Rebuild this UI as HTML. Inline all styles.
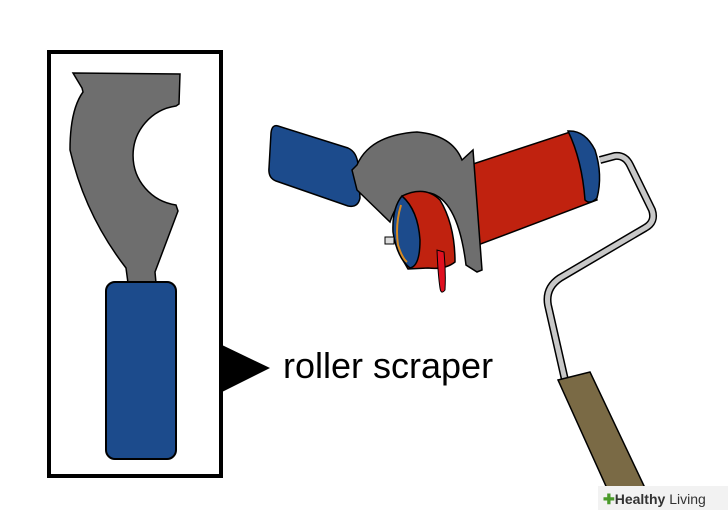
<!DOCTYPE html><html><head><style>body{margin:0;background:#fff}svg{display:block}</style></head><body>
<svg width="728" height="510" xmlns="http://www.w3.org/2000/svg">
<rect x="49" y="52" width="172" height="424" fill="none" stroke="#000" stroke-width="4"/>
<path d="M73,73 L180,74 L179,104 L176,106 A50,50 0 0 0 176,205 L178,211 L155,272 L156,283 L128,283 L126,268 Q85,215 70,150 Q70,110 83,92 L82,88 Z" fill="#6e6e6e" stroke="#000" stroke-width="1.5"/>
<rect x="106" y="282" width="70" height="177" rx="9" fill="#1c4b8c" stroke="#000" stroke-width="2"/>
<polygon points="222,345 270,368 222,392" fill="#000"/>
<text x="283" y="378" font-family="Liberation Sans,sans-serif" font-size="36" fill="#000">roller scraper</text>
<path d="M600,160 L615,156 Q625,155 630,165 L652,210 Q656,222 645,228 L560,278 Q545,288 548,305 L565,380" fill="none" stroke="#000" stroke-width="8"/>
<path d="M600,160 L615,156 Q625,155 630,165 L652,210 Q656,222 645,228 L560,278 Q545,288 548,305 L565,380" fill="none" stroke="#c8c8c8" stroke-width="5"/>
<g stroke="#000" stroke-width="1.5">
<path d="M278,126 L348,148 Q357,152 358,165 L360,198 Q358,208 348,206 L276,181 Q268,178 269,168 L271,133 Q272,124 278,126Z" fill="#1c4b8c"/>
<path d="M470,165 L570,132 L597,200 L478,245Z" fill="#c0220f"/>
<path d="M568,131 Q585,130 595,150 Q603,175 597,198 Q590,205 585,200 Q582,160 568,131Z" fill="#1c4b8c"/>
<path d="M352,170 L357,165 Q370,135 417,132 Q452,135 462,160 L473,150 L482,270 L477,272 L466,265 Q458,200 430,193 Q400,190 390,222 L357,190 Z" fill="#6e6e6e"/>
<path d="M402,196 Q425,185 440,200 Q455,225 455,262 Q445,270 428,268 L408,269 Q396,250 394,230 Q394,205 402,196Z" fill="#c0220f"/>
<path d="M402,196 Q392,208 393,232 Q397,258 410,268 Q420,266 420,240 Q418,210 402,196Z" fill="#1c4b8c"/>
<path d="M401,205 Q395,225 398,245 Q402,258 407,262" fill="none" stroke="#d88a20" stroke-width="2"/>
<path d="M437,250 Q438,275 440,288 Q441,295 445,290 Q446,272 444,252Z" fill="#e01020" stroke-width="1"/>
<rect x="385" y="237" width="9" height="7" fill="#ddd" stroke-width="1"/>
</g>
<path d="M558,380 L590,372 L645,488 L610,495Z" fill="#7a6a45" stroke="#000" stroke-width="1.5"/>
<rect x="598" y="486" width="130" height="24" fill="#f2f2f2"/>
<text x="603" y="504" font-family="Liberation Sans,sans-serif" font-size="14" font-weight="bold" fill="#333"><tspan fill="#4a9a2a">✚</tspan>Healthy <tspan font-weight="normal">Living</tspan></text>
</svg></body></html>
